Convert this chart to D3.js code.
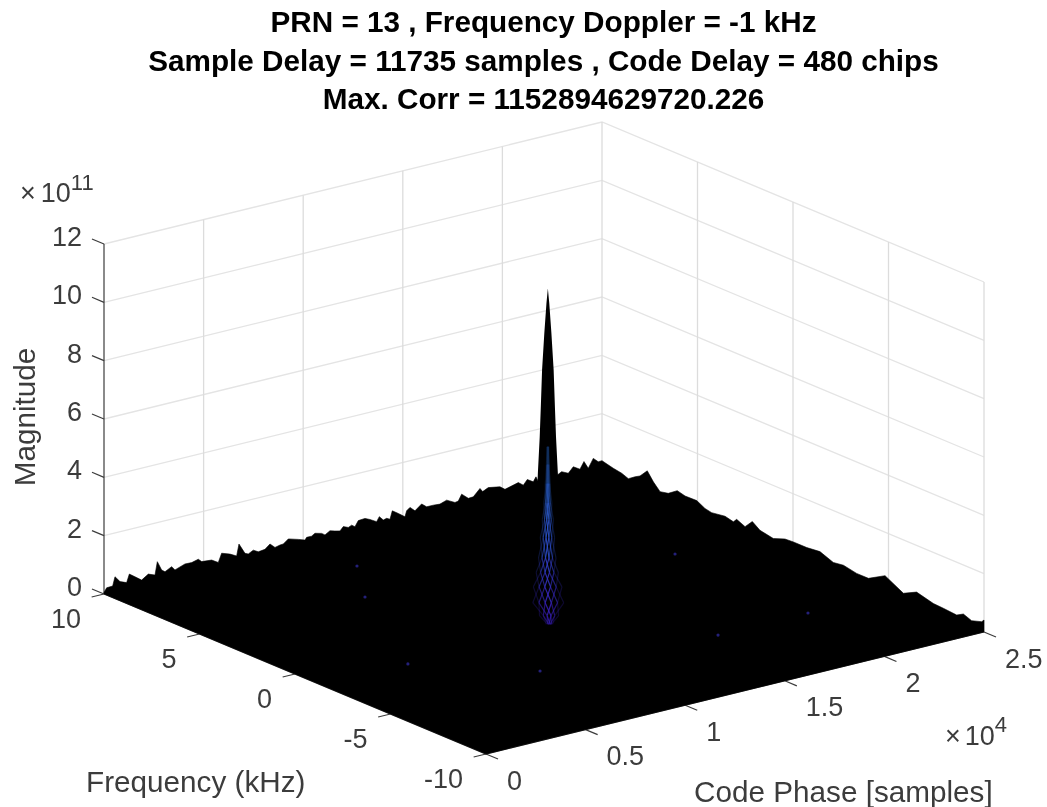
<!DOCTYPE html>
<html>
<head>
<meta charset="utf-8">
<script src="https://cdn.jsdelivr.net/npm/d3@7"></script>
<style>
    html, body { margin: 0; padding: 0; background: #fff; }
    svg { display: block; filter: blur(0.4px); }
    text { font-family: "Liberation Sans", Arial, sans-serif; }
    .mesh { filter: blur(0.5px); }
</style>
</head>
<body>
<div id="graph"></div>
<script>
// Data, magnitudes are in units of 1e11_____________________
const titleLines = [
    'PRN = 13 , Frequency Doppler = -1 kHz',
    'Sample Delay = 11735 samples , Code Delay = 480 chips',
    'Max. Corr = 1152894629720.226'
];

const codeTicks = [0, 5000, 10000, 15000, 20000, 25000];
const codeTickLabels = ['0', '0.5', '1', '1.5', '2', '2.5'];
const freqTicks = [10, 5, 0, -5, -10];
const freqTickLabels = ['10', '5', '0', '-5', '-10'];
const magTicks = [0, 2, 4, 6, 8, 10, 12];
const magTickLabels = ['0', '2', '4', '6', '8', '10', '12'];

// surface height along the y = 10 kHz edge
const backEdgeCode = [0, 134, 435, 552, 803, 1138, 1271, 1556, 1890, 2225, 2560, 2677, 2894, 3062, 3396, 3563,
    4065, 4400, 4734, 4902, 5404, 5738, 5906, 6324, 6658, 6776, 7077, 7244, 7495, 7746, 8081, 8333,
    8584, 8835, 9002, 9253, 9755, 10090, 10173, 10424, 10592, 10926, 11094, 11344, 11595, 11846,
    12014, 12265, 12432, 12599, 12766, 13101, 13352, 13687, 13821, 14021, 14189, 14356, 14473,
    14774, 15109, 15192, 15360, 15611, 15945, 16196, 16531, 16865,
    17202, 17620, 17787, 17954, 18289, 18540, 18875, 19008, 19293, 19878, 20129, 20799, 21050,
    21250, 21551, 21685, 21802, 22756, 22973, 23308, 23559, 23894, 24095, 24312, 24563, 24814];
const backEdgeMag = [0.05, 0.19, 0.20, 0.50, 0.29, 0.20, 0.47, 0.33, 0.16, 0.31, 0.22, 0.66, 0.34, 0.25, 0.37, 0.23,
    0.35, 0.34, 0.40, 0.29, 0.26, 0.12, 0.41, 0.31, 0.19, 0.58, 0.21, 0.16, 0.25, 0.15, 0.18, 0.32,
    0.16, 0.20, 0.21, 0.34, 0.24, 0.16, 0.24, 0.24, 0.31, 0.25, 0.17, 0.27, 0.22, 0.18,
    0.30, 0.23, 0.28, 0.20, 0.38, 0.40, 0.32, 0.19, 0.34, 0.19, 0.22, 0.16, 0.43,
    0.29, 0.12, 0.31, 0.40, 0.24, 0.42, 0.28, 0.28, 0.26,
    0.34, 0.19, 0.21, 0.42, 0.22, 0.23, 0.46, 0.33, 0.42, 0.35, 0.22, 0.34, 0.21,
    0.37, 0.24, 0.39, 0.20, 0.27, 0.35, 0.24, 0.42, 0.28, 0.51, 0.24, 0.54, 0.38];

// surface height along the x = 25000 samples edge
const sideEdgeFreq = [10, 9.84, 9.41, 8.97, 8.62, 8.27, 8.01, 7.63, 7.31, 6.96, 6.53, 6.06, 5.65, 5.04, 4.61,
    4.26, 3.56, 3.12, 2.95, 2.51, 2.13, 1.73, 1.03, 0.42, -0.02, -0.72, -1.41, -2.11, -2.64, -3.33, -3.95,
    -4.82, -5.78, -6.47, -7.35, -7.87, -8.57, -8.92, -9.35, -9.88, -10];
const sideEdgeMag = [0.39, 0.36, 0.29, 0.24, 0.15, 0.31, 0.41, 0.69, 0.40, 0.16, 0.22, 0.44, 0.37, 0.38, 0.23,
    0.18, 0.25, 0.18, 0.31, 0.18, 0.46, 0.27, 0.18, 0.33, 0.35, 0.35, 0.40, 0.22, 0.27, 0.18, 0.18,
    0.51, 0.17, 0.40, 0.25, 0.23, 0.19, 0.32, 0.21, 0.32, 0.41];

// correlation spike at the detected code phase / doppler
const peakCode = 11735;
const peakFreq = -1;
const spikeMag = [11.529, 11.03, 10, 8.73, 7.5, 6.44, 5.2, 3.5, 0];
const spikeHalfCode = [0, 44, 112, 182, 222, 258, 315, 380, 440];
const spikeHalfFreq = [0, 0.027, 0.068, 0.113, 0.136, 0.158, 0.194, 0.235, 0.27];

// blue mesh on the front of the spike
const meshMag = [0, 0.3, 0.75, 1.3, 1.8, 2.3, 3.0, 3.6, 4.2, 4.85, 5.5, 6.1];
const meshHalfCode = [80, 240, 390, 360, 280, 220, 180, 140, 100, 65, 40, 25];
const meshShiftCode = [80, 60, 20, -10, -30, -30, -20, 0, 0, 0, 0, 0];
const meshColumns = [-1, -0.5, 0, 0.5, 1];

// dim blue specks on the floor
const speckCode = [4335, 7987, 20862, 16347, 21110, 10130, 8040];
const speckFreq = [-1.39, -4.5, -5.1, -5.1, 2.12, 7.32, 4.72];

// Layout____________________________________________________
const width = 1047;
const height = 807;
const leftCorner = [104, 594];
const codeSpan = [498, -122];
const freqSpan = [382, 160];
const magSpan = 350;
const tickColor = '#3c3c3c';

const codeScale = d3.scaleLinear().domain([0, 25000]).range([0, 1]);
const freqScale = d3.scaleLinear().domain([10, -10]).range([0, 1]);
const magScale = d3.scaleLinear().domain([0, 12]).range([0, magSpan]);
const meshColor = d3.scaleLinear()
    .domain([0, 1, 3, 4.5, 6.1])
    .range(['#3018a0', '#3a22c0', '#2f50d0', '#2a5cc8', '#12305e']);

// orthographic view, same one for every mark
const project = (code, freq, mag) => {
    const a = codeScale(code);
    const b = freqScale(freq);
    return [
        leftCorner[0] + a * codeSpan[0] + b * freqSpan[0],
        leftCorner[1] + a * codeSpan[1] + b * freqSpan[1] - magScale(mag)
    ];
};
const line = d3.line();

const svg = d3.select('#graph')
    .append('svg')
    .attr('width', width)
    .attr('height', height);

// Title_____________________________________________________
svg.append('g')
    .selectAll('text')
    .data(titleLines)
    .enter()
    .append('text')
    .attr('x', 543.5)
    .attr('y', (d, i) => 31.7 + i * 38.8)
    .attr('text-anchor', 'middle')
    .attr('font-size', 29.7)
    .attr('font-weight', 'bold')
    .attr('fill', '#000')
    .text(d => d);

// Back walls________________________________________________
const grid = svg.append('g')
    .attr('fill', 'none')
    .attr('stroke-width', 1.3);

magTicks.forEach(m => {
    grid.append('path')
        .attr('stroke', '#e4e4e4')
        .attr('d', line([project(0, 10, m), project(25000, 10, m), project(25000, -10, m)]));
});
codeTicks.slice(1).forEach(c => {
    grid.append('path')
        .attr('stroke', '#dcdcdc')
        .attr('d', line([project(c, 10, 0), project(c, 10, 12)]));
});
freqTicks.slice(1).forEach(f => {
    grid.append('path')
        .attr('stroke', '#dcdcdc')
        .attr('d', line([project(25000, f, 0), project(25000, f, 12)]));
});

// Axes______________________________________________________
const axes = svg.append('g')
    .attr('fill', 'none')
    .attr('stroke', tickColor)
    .attr('stroke-width', 1.2);

axes.append('path').attr('d', line([project(0, 10, 0), project(0, 10, 12)]));
axes.append('path').attr('d', line([project(0, 10, 0), project(0, -10, 0), project(25000, -10, 0)]));

const tickCode = 620;
const tickFreq = 0.63;
magTicks.forEach(m => {
    axes.append('path').attr('d', line([project(0, 10, m), project(0, 10 + tickFreq, m)]));
});
freqTicks.forEach(f => {
    axes.append('path').attr('d', line([project(0, f, 0), project(-tickCode, f, 0)]));
});
codeTicks.forEach(c => {
    axes.append('path').attr('d', line([project(c, -10, 0), project(c, -10 - tickFreq, 0)]));
});

// Tick labels_______________________________________________
const labels = svg.append('g')
    .attr('font-size', 27)
    .attr('fill', tickColor);

labels.selectAll('.mag-label')
    .data(magTicks)
    .enter()
    .append('text')
    .attr('class', 'mag-label')
    .attr('text-anchor', 'end')
    .attr('x', d => project(0, 10, d)[0] - 22)
    .attr('y', d => project(0, 10, d)[1] + 2)
    .text((d, i) => magTickLabels[i]);

labels.selectAll('.freq-label')
    .data(freqTicks)
    .enter()
    .append('text')
    .attr('class', 'freq-label')
    .attr('text-anchor', 'end')
    .attr('x', d => project(0, d, 0)[0] - 23)
    .attr('y', d => project(0, d, 0)[1] + 33.5)
    .text((d, i) => freqTickLabels[i]);

labels.selectAll('.code-label')
    .data(codeTicks)
    .enter()
    .append('text')
    .attr('class', 'code-label')
    .attr('x', d => project(d, -10, 0)[0] + 21)
    .attr('y', d => project(d, -10, 0)[1] + 35.5)
    .text((d, i) => codeTickLabels[i]);

// exponents
const magExp = labels.append('text').attr('x', 20).attr('y', 202);
magExp.append('tspan').text('\u00d7');
magExp.append('tspan').attr('dx', 5).text('10');
magExp.append('tspan').attr('dy', -12).attr('font-size', 22).text('11');

const codeExp = labels.append('text').attr('x', 945).attr('y', 745);
codeExp.append('tspan').text('\u00d7');
codeExp.append('tspan').attr('dx', 4).text('10');
codeExp.append('tspan').attr('dy', -13).attr('font-size', 22).text('4');

// Axis titles
const titles = labels.append('g').attr('font-size', 29.7);
titles.append('text').attr('x', 86).attr('y', 791.5).text('Frequency (kHz)');
titles.append('text').attr('x', 694).attr('y', 801.5).text('Code Phase [samples]');
titles.append('text')
    .attr('transform', 'translate(34.5, 417) rotate(-90)')
    .attr('text-anchor', 'middle')
    .text('Magnitude');

// Surface___________________________________________________
const outline = [project(0, 10, 0)]
    .concat(backEdgeCode.map((c, i) => project(c, 10, backEdgeMag[i])))
    .concat(sideEdgeFreq.map((f, i) => project(25000, f, sideEdgeMag[i])))
    .concat([project(25000, -10, 0), project(0, -10, 0)]);

svg.append('path')
    .attr('d', line(outline) + 'Z')
    .attr('fill', '#000')
    .attr('stroke', '#000')
    .attr('stroke-width', 0.6);

// spike silhouette, up the left flank and down the right one
const spikeLeft = spikeMag.map((m, i) => project(peakCode - spikeHalfCode[i], peakFreq + spikeHalfFreq[i], m));
const spikeRight = spikeMag.map((m, i) => project(peakCode + spikeHalfCode[i], peakFreq - spikeHalfFreq[i], m));

svg.append('path')
    .attr('d', line(spikeLeft.concat(spikeRight.reverse())) + 'Z')
    .attr('fill', '#000');

// Mesh lines on the spike___________________________________
const mesh = svg.append('g')
    .attr('class', 'mesh')
    .attr('fill', 'none')
    .attr('stroke-width', 1.2);

// every second row is pushed sideways, this gives the diamonds
const freqPerCode = 0.62 / 1000;
[1, -1].forEach(side => {
    meshColumns.forEach(col => {
        meshMag.slice(1).forEach((m, r) => {
            const pointAt = k => {
                const shift = (col + (k % 2 === 0 ? side : -side) * 0.25) * meshHalfCode[k];
                return project(peakCode + meshShiftCode[k] + shift, peakFreq - shift * freqPerCode, meshMag[k]);
            };
            const outer = Math.abs(col);
            mesh.append('path')
                .attr('d', line([pointAt(r), pointAt(r + 1)]))
                .attr('stroke', meshColor(m))
                .attr('opacity', outer === 1 ? 0.25 : outer === 0.5 ? 0.6 : 0.85);
        });
    });
});

// Floor specks
svg.append('g')
    .selectAll('circle')
    .data(speckCode)
    .enter()
    .append('circle')
    .attr('cx', (d, i) => project(d, speckFreq[i], 0)[0])
    .attr('cy', (d, i) => project(d, speckFreq[i], 0)[1])
    .attr('r', 1.6)
    .attr('fill', '#24207a');
</script>
</body>
</html>
